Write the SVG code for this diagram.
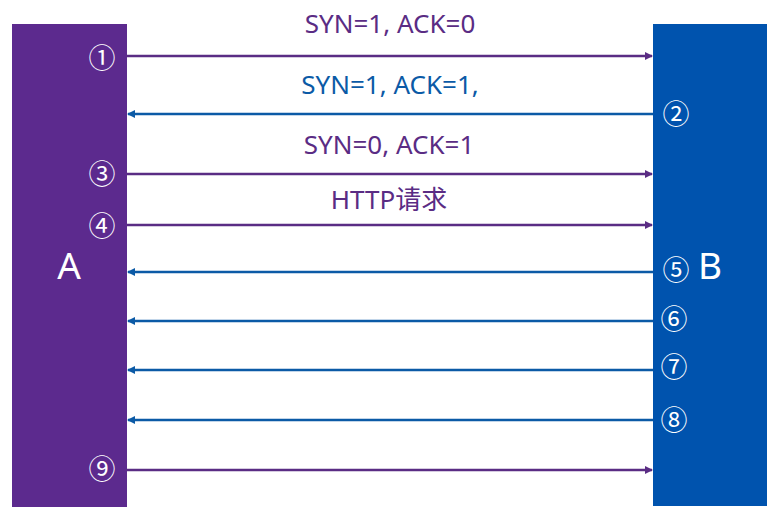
<svg xmlns="http://www.w3.org/2000/svg" width="784" height="514" viewBox="0 0 784 514">
<style>
.lbl{font-family:"Noto Sans","Noto Sans CJK SC",sans-serif;font-size:26px;text-anchor:middle}
.num{font-family:"Noto Sans CJK SC","DejaVu Sans",sans-serif;font-size:27px;fill:#fff;text-anchor:middle}
.big{font-family:"Noto Sans","Noto Sans CJK SC",sans-serif;font-size:37px;fill:#fff;text-anchor:middle}
.p{stroke:#5a2c84;stroke-width:2.5;fill:none}
.b{stroke:#0b5aa6;stroke-width:2.5;fill:none}
</style>
<defs>
<marker id="mp" markerWidth="8" markerHeight="8" refX="7" refY="4" orient="auto" markerUnits="userSpaceOnUse"><path d="M0,0 L8,4 L0,8 z" fill="#5a2c84"/></marker>
<marker id="mb" markerWidth="8" markerHeight="8" refX="7" refY="4" orient="auto" markerUnits="userSpaceOnUse"><path d="M0,0 L8,4 L0,8 z" fill="#0b5aa6"/></marker>
</defs>
<rect width="784" height="514" fill="#fff"/>
<g id="A">
<rect x="12" y="24" width="115" height="483" fill="#5c2a8e"/>
<text class="big" x="69" y="279">A</text>
</g>
<g id="B">
<rect x="653" y="24" width="114" height="482" fill="#0053ae"/>
<text class="big" x="710" y="279">B</text>
</g>
<g id="connectors">
<line class="p" x1="127" y1="56" x2="652" y2="56" marker-end="url(#mp)"/>
<line class="b" x1="653" y1="114" x2="128" y2="114" marker-end="url(#mb)"/>
<line class="p" x1="127" y1="174" x2="652" y2="174" marker-end="url(#mp)"/>
<line class="p" x1="127" y1="225" x2="652" y2="225" marker-end="url(#mp)"/>
<line class="b" x1="653" y1="272" x2="128" y2="272" marker-end="url(#mb)"/>
<line class="b" x1="653" y1="321" x2="128" y2="321" marker-end="url(#mb)"/>
<line class="b" x1="653" y1="370" x2="128" y2="370" marker-end="url(#mb)"/>
<line class="b" x1="653" y1="420" x2="128" y2="420" marker-end="url(#mb)"/>
<line class="p" x1="127" y1="470" x2="652" y2="470" marker-end="url(#mp)"/>
</g>
<g id="labels">
<text class="lbl" x="390" y="33" fill="#5a2c84">SYN=1, ACK=0</text>
<text class="lbl" x="390" y="94" fill="#0b5aa6">SYN=1, ACK=1,</text>
<text class="lbl" x="389" y="154" fill="#5a2c84">SYN=0, ACK=1</text>
<text class="lbl" x="389" y="209" fill="#5a2c84">HTTP请求</text>
</g>
<g id="numbers">
<text class="num" x="102" y="68">①</text>
<text class="num" x="676" y="124">②</text>
<text class="num" x="102" y="184">③</text>
<text class="num" x="102" y="236">④</text>
<text class="num" x="676" y="280">⑤</text>
<text class="num" x="674" y="329">⑥</text>
<text class="num" x="674" y="377">⑦</text>
<text class="num" x="674" y="430">⑧</text>
<text class="num" x="102" y="479">⑨</text>
</g>
</svg>
